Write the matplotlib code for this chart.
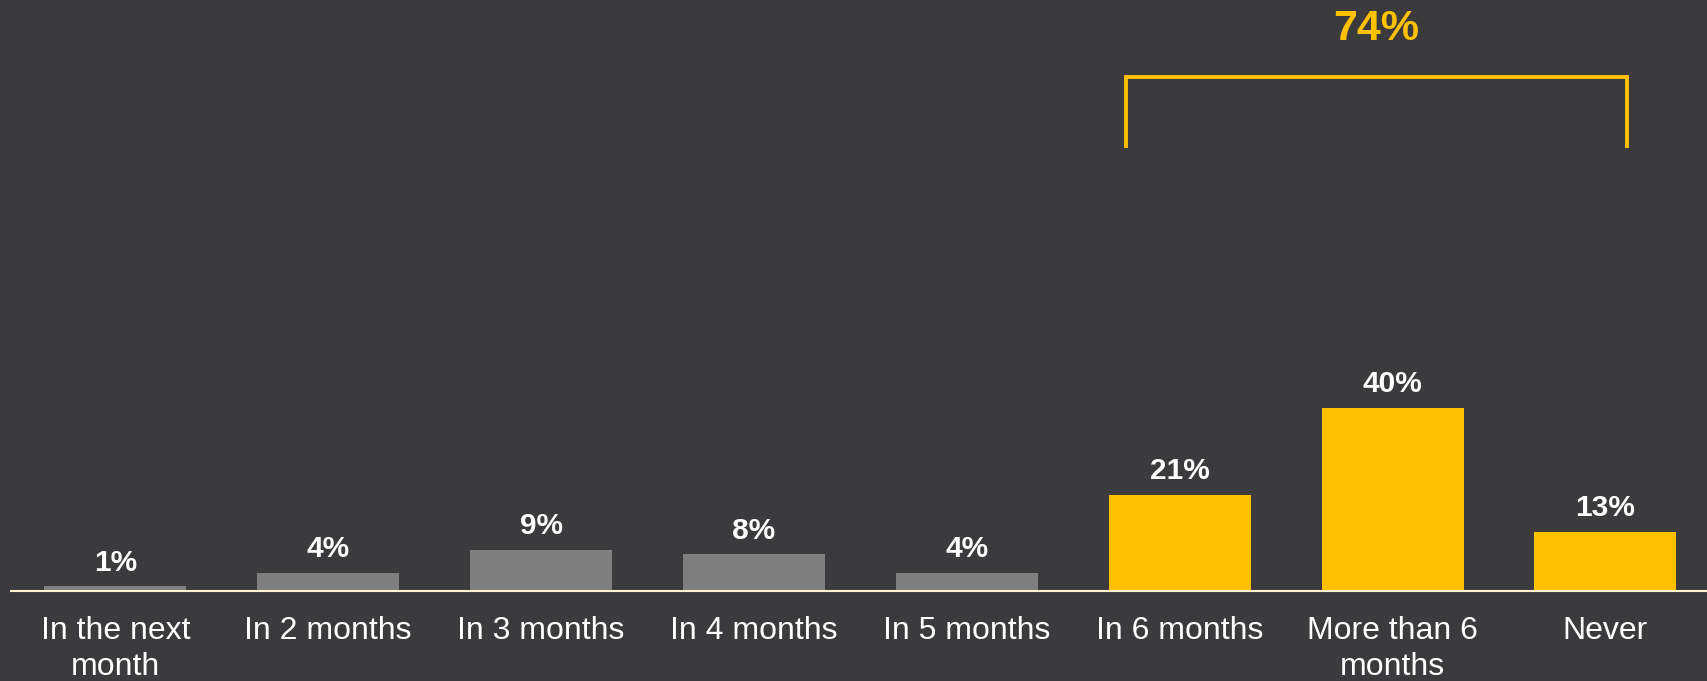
import matplotlib
matplotlib.use("Agg")
import matplotlib.pyplot as plt
import numpy as np

# survey answers
categories = ["In the next\nmonth", "In 2 months", "In 3 months", "In 4 months",
              "In 5 months", "In 6 months", "More than 6\nmonths", "Never"]
values = [1, 4, 9, 8, 4, 21, 40, 13]
highlight = [False, False, False, False, False, True, True, True]
bracket_label = "74%"

BG = "#3b3b3d"
GREY = "#7f7f7f"
YELLOW = "#ffc000"

plt.rcParams["font.family"] = ["Liberation Sans", "DejaVu Sans"]

fig = plt.figure(figsize=(17.07, 6.81), dpi=100, facecolor=BG)
ax = fig.add_axes([11 / 1707, 90 / 681, 1 - 11 / 1707, 1 - 90 / 681])
ax.set_facecolor(BG)

x = np.arange(len(categories))
colors = [YELLOW if h else GREY for h in highlight]
bars = ax.bar(x, values, width=0.667, color=colors, zorder=2)

for b, v in zip(bars, values):
    ax.annotate(f"{v}%", (b.get_x() + b.get_width() / 2, v),
                xytext=(0, 7), textcoords="offset points",
                ha="center", va="bottom", color="white",
                fontsize=21.5, fontweight="bold")

ax.set_xlim(-0.49, 7.477)
ax.set_ylim(0, 129.2)

# bracket over the last three bars
bx0, bx1 = 4.75, 7.10
by_top, by_bot = 112.3, 97.3
ax.plot([bx0, bx0, bx1, bx1], [by_bot, by_top, by_top, by_bot],
        color=YELLOW, lw=2.8, solid_joinstyle="miter", clip_on=False)
ax.text((bx0 + bx1) / 2, 122.8, bracket_label, ha="center", va="center",
        color=YELLOW, fontsize=31, fontweight="bold")

ax.set_xticks(x)
ax.set_xticklabels(categories, color="white", fontsize=23, linespacing=1.25)
ax.tick_params(axis="x", length=0, pad=18)
ax.set_yticks([])
for s in ["top", "right", "left"]:
    ax.spines[s].set_visible(False)
ax.spines["bottom"].set_color("#fff2cc")
ax.spines["bottom"].set_linewidth(1.5)

fig.savefig("out.png", dpi=100, facecolor=BG)
